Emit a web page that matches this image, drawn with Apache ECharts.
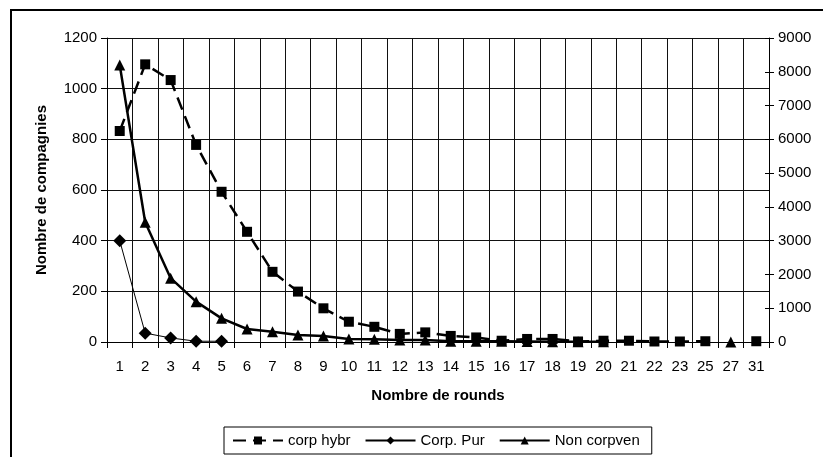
<!DOCTYPE html>
<html>
<head>
<meta charset="utf-8">
<script src="https://cdn.jsdelivr.net/npm/echarts@6/dist/echarts.min.js"></script>
<style>
html,body{margin:0;padding:0;background:#fff;}
#chart{width:823px;height:457px;}
</style>
</head>
<body>
<div id="chart"></div>
<script>
var categories = ['1','2','3','4','5','6','7','8','9','10','11','12','13','14','15','16','17','18','19','20','21','22','23','25','27','31'];
var corpHybr = [833,1096,1034,778,593,435,277,199,133,80,60,32,38,24,18,5,12,12,2,5,5,2,2,3,null,3];
var corpPur = [400,35,16,3,3,null,null,null,null,null,null,null,null,null,null,null,null,null,null,null,null,null,null,null,null,null];
var nonCorpven = [8200,3545,1890,1195,700,385,305,205,178,90,80,60,60,20,20,20,15,10,10,10,null,null,null,null,0,null];
var seriesNames = ['corp hybr','Corp. Pur','Non corpven'];
var xTitle = 'Nombre de rounds';
var yTitle = 'Nombre de compagnies';

var FONT = 'Liberation Sans, Arial, sans-serif';
var plain = function (v) { return String(v); };
var chart = echarts.init(document.getElementById('chart'), null, {renderer:'canvas'});
chart.setOption({
  backgroundColor:'#fff',
  animation:false,
  graphic:[{type:'rect', shape:{x:11,y:10,width:900,height:600}, style:{fill:'none', stroke:'#000', lineWidth:2}, z:-1}],
  grid:{left:107, top:38, right:54, bottom:115, containLabel:false},
  legend:{
    left:224, top:427, padding:[6,12,6,8],
    borderColor:'#000', borderWidth:1,
    itemWidth:50, itemHeight:10, itemGap:14,
    textStyle:{fontFamily:FONT, fontSize:15, color:'#000'},
    data:seriesNames
  },
  xAxis:{
    type:'category', data:categories, boundaryGap:true,
    name:xTitle, nameLocation:'middle', nameGap:46,
    nameTextStyle:{fontFamily:FONT, fontSize:15, fontWeight:'bold', color:'#000'},
    axisLine:{lineStyle:{color:'#000', width:1}},
    axisTick:{show:true, interval:0, length:6, lineStyle:{color:'#000'}},
    axisLabel:{interval:0, margin:17, fontFamily:FONT, fontSize:15, color:'#000'},
    splitLine:{show:true, interval:0, lineStyle:{color:'#111', width:1}}
  },
  yAxis:[{
    type:'value', min:0, max:1200, interval:200, position:'left',
    name:yTitle, nameLocation:'middle', nameGap:58, nameRotate:90,
    nameTextStyle:{fontFamily:FONT, fontSize:15, fontWeight:'bold', color:'#000'},
    axisLine:{show:true, lineStyle:{color:'#000'}},
    axisTick:{show:true, length:6, lineStyle:{color:'#000'}},
    axisLabel:{margin:10, fontFamily:FONT, fontSize:15, color:'#000', formatter:plain},
    splitLine:{show:true, lineStyle:{color:'#111', width:1}}
  },{
    type:'value', min:0, max:9000, interval:1000, position:'right',
    axisLine:{show:true, lineStyle:{color:'#000'}},
    axisTick:{show:true, length:5, lineStyle:{color:'#000'}},
    axisLabel:{margin:9, fontFamily:FONT, fontSize:15, color:'#000', formatter:plain},
    splitLine:{show:false}
  },{
    type:'value', min:0, max:9000, interval:1000, position:'right',
    axisLine:{show:false},
    axisTick:{show:true, inside:true, length:4, lineStyle:{color:'#000'}},
    axisLabel:{show:false},
    splitLine:{show:false}
  }],
  series:[{
    name:seriesNames[0], type:'line', yAxisIndex:0, data:corpHybr,
    symbol:'rect', symbolSize:10, showAllSymbol:true, connectNulls:false,
    lineStyle:{color:'#000', width:2.5, type:[13,7]},
    itemStyle:{color:'#000'}
  },{
    name:seriesNames[1], type:'line', yAxisIndex:0, data:corpPur,
    symbol:'diamond', symbolSize:[13,13], showAllSymbol:true, connectNulls:false,
    lineStyle:{color:'#000', width:1},
    itemStyle:{color:'#000'}
  },{
    name:seriesNames[2], type:'line', yAxisIndex:1, data:nonCorpven,
    symbol:'triangle', symbolSize:11, showAllSymbol:true, connectNulls:false,
    lineStyle:{color:'#000', width:2.5},
    itemStyle:{color:'#000'}
  }]
});
</script>
</body>
</html>
